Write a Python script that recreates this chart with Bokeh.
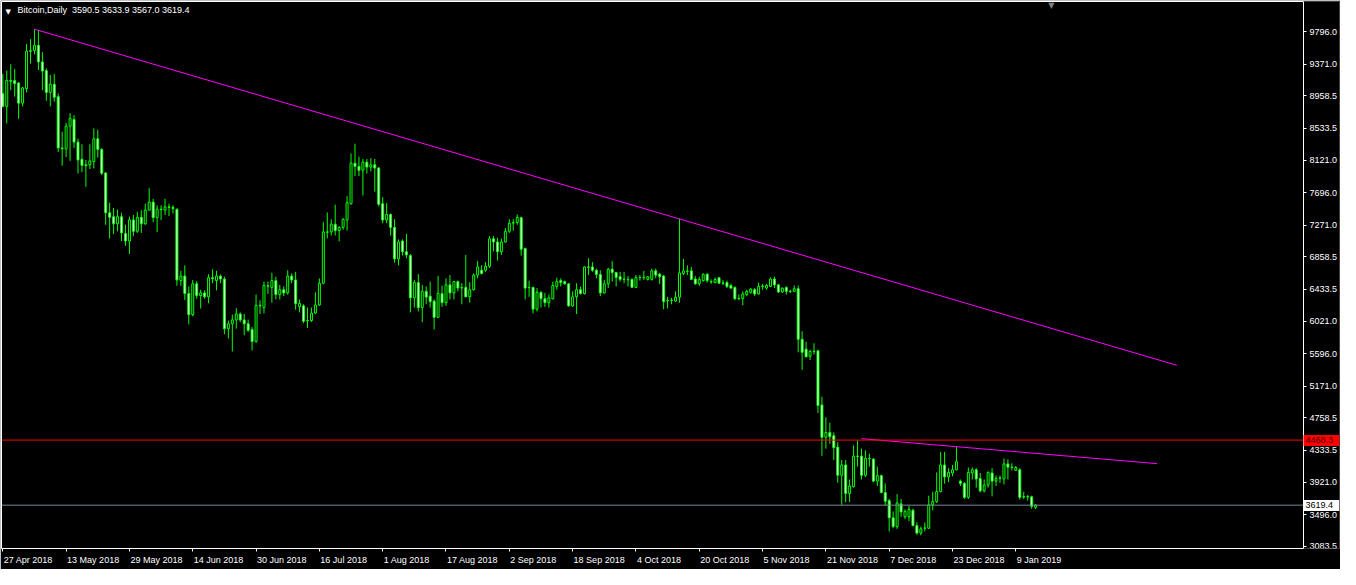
from bokeh.plotting import figure
from bokeh.models import ColumnDataSource, FixedTicker, PrintfTickFormatter, LinearAxis, Label
from bokeh.embed import file_html
from bokeh.resources import INLINE

# ---------------- data ----------------
symbol_title = "Bitcoin,Daily"
last_ohlc = "3590.5 3633.9 3567.0 3619.4"

opens = [8991, 8822, 9161, 9160, 9127, 8864, 9055, 9548, 9550, 9618,
         9402, 9288, 9004, 9110, 8949, 8280, 8267, 8564, 8652, 8356,
         8132, 8060, 8060, 8102, 8399, 8259, 7954, 7434, 7383, 7290,
         7383, 7162, 7065, 7341, 7192, 7374, 7290, 7468, 7573, 7370,
         7480, 7468, 7510, 7505, 7480, 6549, 6608, 6380, 6104, 6507,
         6354, 6388, 6337, 6587, 6549, 6608, 6570, 5922, 5986, 6036,
         6113, 6036, 5986, 5910, 5753, 6227, 6197, 6481, 6460, 6549,
         6367, 6430, 6388, 6608, 6557, 6210, 6219, 6028, 6028, 6125,
         6231, 6515, 7184, 7184, 7285, 7201, 7243, 7340, 7552, 8081,
         8039, 7988, 8094, 8030, 8060, 8018, 7552, 7340, 7412, 7243,
         6832, 7065, 6925, 6875, 6324, 6523, 6197, 6409, 6346, 6282,
         6070, 6380, 6261, 6494, 6388, 6536, 6452, 6460, 6337, 6430,
         6621, 6684, 6684, 6735, 7095, 7053, 6925, 7053, 7192, 7298,
         7307, 7370, 6968, 6460, 6460, 6176, 6396, 6312, 6261, 6312,
         6473, 6549, 6536, 6507, 6219, 6337, 6430, 6380, 6727, 6727,
         6684, 6629, 6388, 6507, 6697, 6655, 6600, 6565, 6565, 6565,
         6460, 6587, 6591, 6565, 6565, 6676, 6633, 6608, 6290, 6290,
         6282, 6333, 6642, 6672, 6676, 6570, 6507, 6548, 6633, 6536,
         6523, 6587, 6515, 6523, 6485, 6460, 6316, 6316, 6367, 6396,
         6430, 6375, 6473, 6451, 6473, 6570, 6494, 6401, 6460, 6409,
         6409, 6443, 5783, 5655, 5562, 5626, 5634, 4927, 4504, 4568,
         4525, 4377, 4009, 4144, 3772, 3861, 4259, 4259, 4009, 4229,
         4221, 3933, 4005, 3785, 3679, 3454, 3340, 3636, 3467, 3467,
         3552, 3353, 3255, 3318, 3318, 3624, 3666, 3797, 4144, 3988,
         4039, 4081, 3933, 3903, 3721, 4039, 4081, 3966, 3806, 3882,
         4039, 3933, 3975, 3962, 4157, 4115, 4073, 4081, 3729, 3729,
         3729, 3590.5]

highs = [9245, 9288, 9372, 9309, 9139, 9076, 9635, 9698, 9829, 9817,
         9529, 9317, 9232, 9245, 8991, 8492, 8606, 8733, 8708, 8399,
         8327, 8123, 8327, 8534, 8517, 8280, 7963, 7565, 7497, 7476,
         7434, 7277, 7383, 7404, 7446, 7467, 7552, 7755, 7615, 7531,
         7531, 7615, 7552, 7531, 7488, 6676, 6748, 6473, 6557, 6544,
         6430, 6422, 6633, 6697, 6676, 6629, 6600, 6028, 6104, 6189,
         6134, 6113, 6041, 5943, 6367, 6291, 6536, 6536, 6650, 6600,
         6494, 6473, 6684, 6642, 6663, 6303, 6240, 6197, 6197, 6396,
         6578, 7311, 7438, 7349, 7539, 7256, 7362, 7654, 8208, 8335,
         8166, 8136, 8136, 8145, 8136, 8030, 7637, 7561, 7425, 7349,
         7086, 7086, 7158, 6896, 6557, 6633, 6494, 6473, 6536, 6303,
         6612, 6485, 6578, 6621, 6545, 6549, 6515, 6883, 6528, 6642,
         6803, 6748, 6790, 7129, 7129, 7108, 7095, 7235, 7349, 7349,
         7412, 7383, 6980, 6549, 6472, 6451, 6409, 6388, 6367, 6536,
         6587, 6578, 6549, 6515, 6409, 6515, 6472, 6735, 6841, 6790,
         6705, 6684, 6557, 6714, 6803, 6663, 6663, 6663, 6608, 6578,
         6621, 6621, 6676, 6608, 6705, 6705, 6650, 6621, 6337, 6324,
         6409, 7361, 6832, 6748, 6727, 6608, 6600, 6642, 6642, 6565,
         6591, 6591, 6557, 6549, 6506, 6472, 6367, 6409, 6430, 6451,
         6451, 6523, 6506, 6506, 6591, 6600, 6506, 6460, 6473, 6430,
         6485, 6485, 5888, 5753, 5647, 5732, 5647, 5033, 4767, 4695,
         4568, 4441, 4208, 4208, 3954, 4398, 4462, 4356, 4335, 4293,
         4229, 4123, 4017, 3903, 3700, 3539, 3763, 3700, 3564, 3615,
         3573, 3395, 3340, 3395, 3742, 3793, 4047, 4314, 4314, 4102,
         4144, 4377, 3954, 3920, 4111, 4111, 4102, 4039, 3954, 4060,
         4102, 4005, 4005, 4229, 4216, 4166, 4132, 4102, 3793, 3751,
         3742, 3633.9]

lows = [8809, 8598, 9034, 8949, 8661, 8822, 9004, 9381, 9499, 9296,
        9034, 8894, 8822, 8885, 8229, 8047, 8161, 8111, 8280, 7946,
        7963, 7772, 8005, 8013, 8153, 7925, 7277, 7099, 7158, 7192,
        7065, 7002, 6896, 7128, 7171, 7171, 7277, 7467, 7310, 7183,
        7340, 7404, 7391, 7425, 6481, 6481, 6295, 5977, 6083, 6312,
        6185, 6312, 6252, 6515, 6422, 6515, 5850, 5795, 5626, 5922,
        6007, 5837, 5880, 5638, 5740, 6113, 6121, 6375, 6261, 6303,
        6303, 6346, 6367, 6515, 6168, 6134, 5994, 5931, 6010, 6113,
        6219, 6502, 7099, 7137, 7137, 7061, 7213, 7201, 7539, 7912,
        7912, 7658, 7946, 7975, 7709, 7518, 7298, 7298, 7137, 6782,
        6748, 6875, 6841, 6134, 6197, 6147, 6007, 6240, 6197, 5910,
        6062, 6206, 6219, 6303, 6303, 6409, 6240, 6333, 6261, 6418,
        6578, 6629, 6663, 6714, 6930, 6811, 6883, 7044, 7171, 7201,
        7277, 6875, 6303, 6337, 6121, 6147, 6197, 6206, 6197, 6303,
        6430, 6473, 6494, 6206, 6206, 6113, 6367, 6367, 6621, 6663,
        6578, 6346, 6380, 6451, 6536, 6473, 6536, 6515, 6473, 6451,
        6451, 6549, 6557, 6549, 6549, 6578, 6506, 6176, 6185, 6240,
        6270, 6261, 6621, 6621, 6557, 6494, 6481, 6536, 6523, 6506,
        6515, 6506, 6490, 6451, 6443, 6295, 6295, 6227, 6346, 6380,
        6346, 6367, 6430, 6430, 6464, 6451, 6388, 6388, 6367, 6388,
        6401, 5613, 5385, 5550, 5512, 5584, 4822, 4263, 4356, 4420,
        4208, 3912, 3624, 3658, 3658, 3848, 4123, 3954, 3988, 4123,
        3920, 3869, 3772, 3615, 3276, 3319, 3310, 3467, 3437, 3412,
        3340, 3234, 3226, 3276, 3310, 3552, 3649, 3785, 3899, 3920,
        3996, 4073, 3869, 3700, 3700, 3954, 3848, 3785, 3785, 3848,
        3734, 3869, 3912, 3890, 3954, 4073, 4068, 3691, 3700, 3679,
        3573, 3567.0]

closes = [8822, 9161, 9150, 9118, 8864, 9063, 9542, 9540, 9618, 9402,
          9283, 9004, 9110, 8940, 8280, 8270, 8564, 8665, 8356, 8123,
          8052, 8048, 8111, 8399, 8259, 7950, 7434, 7374, 7290, 7383,
          7171, 7065, 7341, 7192, 7374, 7290, 7468, 7573, 7370, 7480,
          7476, 7510, 7505, 7488, 6557, 6608, 6380, 6104, 6507, 6354,
          6388, 6337, 6587, 6574, 6608, 6570, 5922, 5986, 6036, 6113,
          6036, 5986, 5901, 5753, 6227, 6219, 6485, 6477, 6549, 6367,
          6430, 6388, 6608, 6557, 6248, 6252, 6020, 6024, 6125, 6231,
          6515, 7184, 7180, 7285, 7201, 7243, 7349, 7565, 8081, 8039,
          7988, 8094, 8030, 8060, 8018, 7544, 7340, 7412, 7243, 6832,
          7053, 6925, 6883, 6324, 6523, 6197, 6409, 6333, 6274, 6070,
          6380, 6261, 6494, 6388, 6536, 6452, 6460, 6337, 6430, 6621,
          6727, 6642, 6735, 7095, 7053, 6925, 7053, 7192, 7298, 7307,
          7374, 6959, 6451, 6456, 6176, 6396, 6312, 6261, 6324, 6485,
          6536, 6523, 6507, 6219, 6337, 6430, 6380, 6727, 6723, 6684,
          6629, 6388, 6507, 6697, 6655, 6591, 6565, 6568, 6560, 6460,
          6587, 6590, 6587, 6600, 6676, 6621, 6600, 6274, 6286, 6294,
          6333, 6650, 6676, 6670, 6565, 6507, 6565, 6633, 6548, 6532,
          6565, 6515, 6519, 6473, 6451, 6312, 6312, 6375, 6409, 6439,
          6375, 6473, 6477, 6485, 6570, 6494, 6401, 6451, 6409, 6405,
          6443, 5783, 5613, 5554, 5626, 5622, 4919, 4504, 4568, 4513,
          4369, 4009, 4144, 3772, 3869, 4259, 4255, 4009, 4229, 4225,
          3933, 4005, 3785, 3670, 3454, 3340, 3649, 3531, 3539, 3564,
          3353, 3255, 3310, 3323, 3624, 3666, 3797, 4144, 3988, 4047,
          4081, 4187, 3903, 3721, 4047, 4081, 3962, 3806, 3882, 4047,
          3933, 3966, 3971, 4157, 4115, 4111, 4111, 3721, 3725, 3733,
          3603, 3619.4]

# x-axis: one label every 16 daily bars, bar 0 = 27 Apr 2018
x_tick_labels = ["27 Apr 2018", "13 May 2018", "29 May 2018", "14 Jun 2018", "30 Jun 2018",
                 "16 Jul 2018", "1 Aug 2018", "17 Aug 2018", "2 Sep 2018", "18 Sep 2018",
                 "4 Oct 2018", "20 Oct 2018", "5 Nov 2018", "21 Nov 2018", "7 Dec 2018",
                 "23 Dec 2018", "9 Jan 2019"]
x_tick_step = 16

y_ticks = [3083.5, 3496.0, 3921.0, 4333.5, 4758.5, 5171.0, 5596.0, 6021.0, 6433.5,
           6858.5, 7271.0, 7696.0, 8121.0, 8533.5, 8958.5, 9371.0, 9796.0]

# drawn objects
trend_main_x = [8, 296.7]
trend_main_y = [9829, 5444]
trend_short_x = [217, 291.7]
trend_short_y = [4487, 4161]
resistance_level = 4468.3
bid_level = 3619.4

# ---------------- layout constants ----------------
FRAME_W, FRAME_H = 1338, 547      # frame includes the price-scale strip on the right
PLOT_W = 1302                     # chart area up to the price-scale line
X0, X_EDGE = -0.33, 328.7         # bar range of the chart area
Y0, Y1 = 3054, 10190
FONT = "Liberation Sans"
FPX = 9
LIME = "#00FF00"

px_per_bar = PLOT_W / (X_EDGE - X0)
X_FRAME_END = X0 + FRAME_W / px_per_bar

n = len(opens)
xs = list(range(n))
tops = [max(o, c) for o, c in zip(opens, closes)]
bots = [min(o, c) for o, c in zip(opens, closes)]
fills = ["black" if c >= o else "white" for o, c in zip(opens, closes)]
src = ColumnDataSource(dict(x=xs, high=highs, low=lows, top=tops, bottom=bots, fill=fills))

p = figure(frame_width=FRAME_W, frame_height=FRAME_H, x_range=(X0, X_FRAME_END), y_range=(Y0, Y1),
           y_axis_location="right", output_backend="svg", toolbar_location=None,
           background_fill_color="black", border_fill_color="black",
           min_border_left=1, min_border_top=1, min_border_right=1, min_border_bottom=21)
p.outline_line_color = None
p.grid.grid_line_color = None

# candles
p.segment(x0="x", y0="low", x1="x", y1="high", source=src, line_color=LIME, line_width=1)
p.vbar(x="x", width=0.5, top="top", bottom="bottom", source=src,
       fill_color="fill", line_color=LIME, line_width=1)

# trend lines & horizontal levels (levels run up to the price scale)
p.line(trend_main_x, trend_main_y, line_color="#FF00FF", line_width=1)
p.line(trend_short_x, trend_short_y, line_color="#FF00FF", line_width=1)
p.line([X0, X_EDGE], [resistance_level, resistance_level], line_color="#FF0000", line_width=1)
p.line([X0, X_EDGE], [bid_level, bid_level], line_color="#778899", line_width=1)

# price scale, pinned at the right end of the chart area
ya = p.yaxis[0]
ya.fixed_location = X_EDGE
ya.ticker = FixedTicker(ticks=y_ticks)
ya.formatter = PrintfTickFormatter(format="%.1f")
ya.axis_line_color = "white"
ya.major_tick_line_color = "white"
ya.minor_tick_line_color = None
ya.major_tick_out = 3
ya.major_tick_in = 0
ya.major_label_standoff = 3
ya.major_label_text_color = "white"
ya.major_label_text_font = FONT
ya.major_label_text_font_size = f"{FPX}px"


# price tags: thick tick = coloured box, label drawn on top of it
def price_tag(level, box_color, text_color):
    ax = LinearAxis(ticker=FixedTicker(ticks=[level]), formatter=PrintfTickFormatter(format="%.1f"),
                    fixed_location=X_EDGE)
    ax.axis_line_color = None
    ax.minor_tick_line_color = None
    ax.major_tick_line_color = box_color
    ax.major_tick_line_width = 11
    ax.major_tick_out = 36
    ax.major_tick_in = 0
    ax.major_label_standoff = -34
    ax.major_label_text_color = text_color
    ax.major_label_text_font = FONT
    ax.major_label_text_font_size = f"{FPX}px"
    p.add_layout(ax, "right")


price_tag(resistance_level, "#FF0000", "#4a0000")
price_tag(bid_level, "white", "black")

# time scale: minor ticks on the dates, labels left-aligned at each tick
x_tick_pos = [i * x_tick_step for i in range(len(x_tick_labels))]
CW = {c: 0.556 for c in "0123456789"}
CW.update({" ": 0.278, "A": 0.667, "M": 0.833, "J": 0.5, "S": 0.667, "O": 0.778, "N": 0.722,
           "D": 0.722, "p": 0.556, "r": 0.333, "a": 0.556, "y": 0.5, "u": 0.556, "n": 0.556,
           "l": 0.222, "e": 0.556, "c": 0.5, "t": 0.278, "o": 0.556, "v": 0.5, "g": 0.556})
label_pos, overrides = [], {}
for pos, lab in zip(x_tick_pos, x_tick_labels):
    w = sum(CW.get(ch, 0.55) for ch in lab) * FPX
    c = round(pos + (w / 2 + 1) / px_per_bar, 3)
    label_pos.append(c)
    overrides[c] = lab
xa = p.xaxis[0]
xa.bounds = (X0, X_EDGE)
xa.ticker = FixedTicker(ticks=label_pos, minor_ticks=x_tick_pos)
xa.major_label_overrides = overrides
xa.axis_line_color = "white"
xa.major_tick_line_color = None
xa.major_tick_out = 0
xa.major_tick_in = 0
xa.minor_tick_line_color = "white"
xa.minor_tick_out = 3
xa.minor_tick_in = 0
xa.major_label_standoff = 3
xa.major_label_text_color = "white"
xa.major_label_text_font = FONT
xa.major_label_text_font_size = f"{FPX}px"

# left and top borders of the chart area (bare axes without ticks)
for place in ("left", "above"):
    b = LinearAxis(ticker=FixedTicker(ticks=[]), axis_line_color="white",
                   major_tick_line_color=None, minor_tick_line_color=None,
                   major_tick_out=0, major_tick_in=0, minor_tick_out=0, minor_tick_in=0,
                   major_label_standoff=0)
    if place == "above":
        b.bounds = (X0, X_EDGE)
    p.add_layout(b, place)

# header
p.add_layout(Label(x=4, y=FRAME_H - 6, x_units="screen", y_units="screen", text="\u25bc",
                   text_color="white", text_font="DejaVu Sans", text_font_size="7px",
                   text_baseline="top"))
p.add_layout(Label(x=16, y=FRAME_H - 3, x_units="screen", y_units="screen",
                   text=symbol_title + "\u00a0\u00a0" + last_ohlc,
                   text_color="white", text_font=FONT, text_font_size=f"{FPX}px",
                   text_baseline="top"))
# chart-shift marker a little right of the last bar
p.add_layout(Label(x=n + 3, y=FRAME_H + 1, x_units="data", y_units="screen", text="\u25bc",
                   text_color="#808080", text_font="DejaVu Sans", text_font_size="8px",
                   text_baseline="top", text_align="center"))

open("out.html", "w").write(file_html(p, INLINE))
